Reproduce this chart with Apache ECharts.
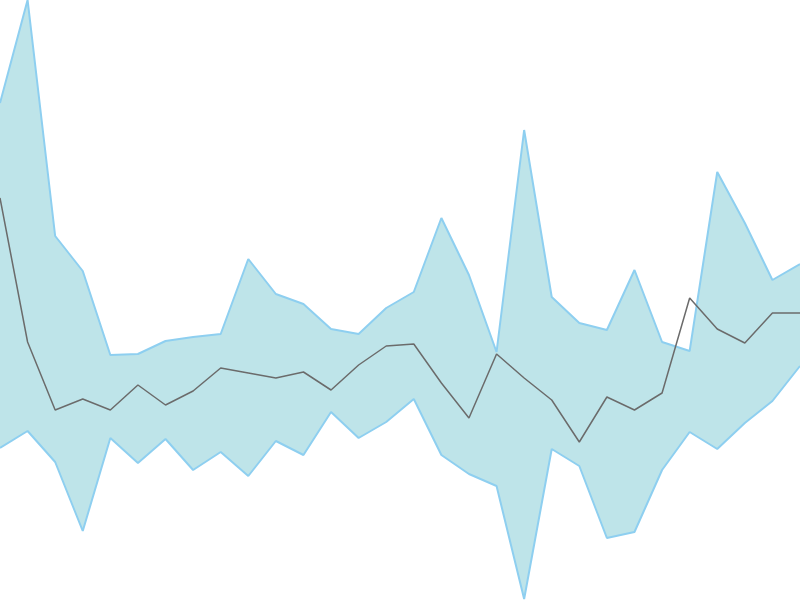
<!DOCTYPE html>
<html><head><meta charset="utf-8">
<script src="https://cdn.jsdelivr.net/npm/echarts@6/dist/echarts.min.js"></script>
<style>html,body{margin:0;padding:0;background:#fff}#c{width:800px;height:600px}</style>
</head><body><div id="c"></div>
<script>
var categories = [];
for (var i = 0; i < 30; i++) categories.push(String(i + 1));
var upper = [497,600,364,329,245,246,259,263,266,341,306,296,271,266,292,308,382,325,248,470,303,277,270,330,258,249,428,377,320,336];
var middle = [402,258,190,201,190,215,195,209,232,227,222,228,210,235,254,256,217,182,246,222,200,158,203,190,207,302,271,257,287,287];
var lower = [152,169,138,69,162,137,161,130,148,124,159,145,188,162,178,201,145,126,114,1,151,134,62,68,130,168,151,177,199,234];
var band = upper.map(function(v, i){ return v - lower[i]; });

var chart = echarts.init(document.getElementById('c'));
chart.setOption({
  animation: false,
  grid: {left: 0, right: 0, top: 0, bottom: 0},
  xAxis: {type: 'category', data: categories, boundaryGap: false, show: false},
  yAxis: {type: 'value', min: 0, max: 600, show: false},
  series: [
    {name: 'L', type: 'line', data: lower, stack: 'band', symbol: 'none',
     lineStyle: {color: '#8ecff0', width: 2}},
    {name: 'U', type: 'line', data: band, stack: 'band', symbol: 'none',
     lineStyle: {color: '#8ecff0', width: 2},
     areaStyle: {color: '#bee4e9', opacity: 1}},
    {name: 'M', type: 'line', data: middle, symbol: 'none',
     lineStyle: {color: '#6b6b6b', width: 1.5}}
  ]
});
</script></body></html>
